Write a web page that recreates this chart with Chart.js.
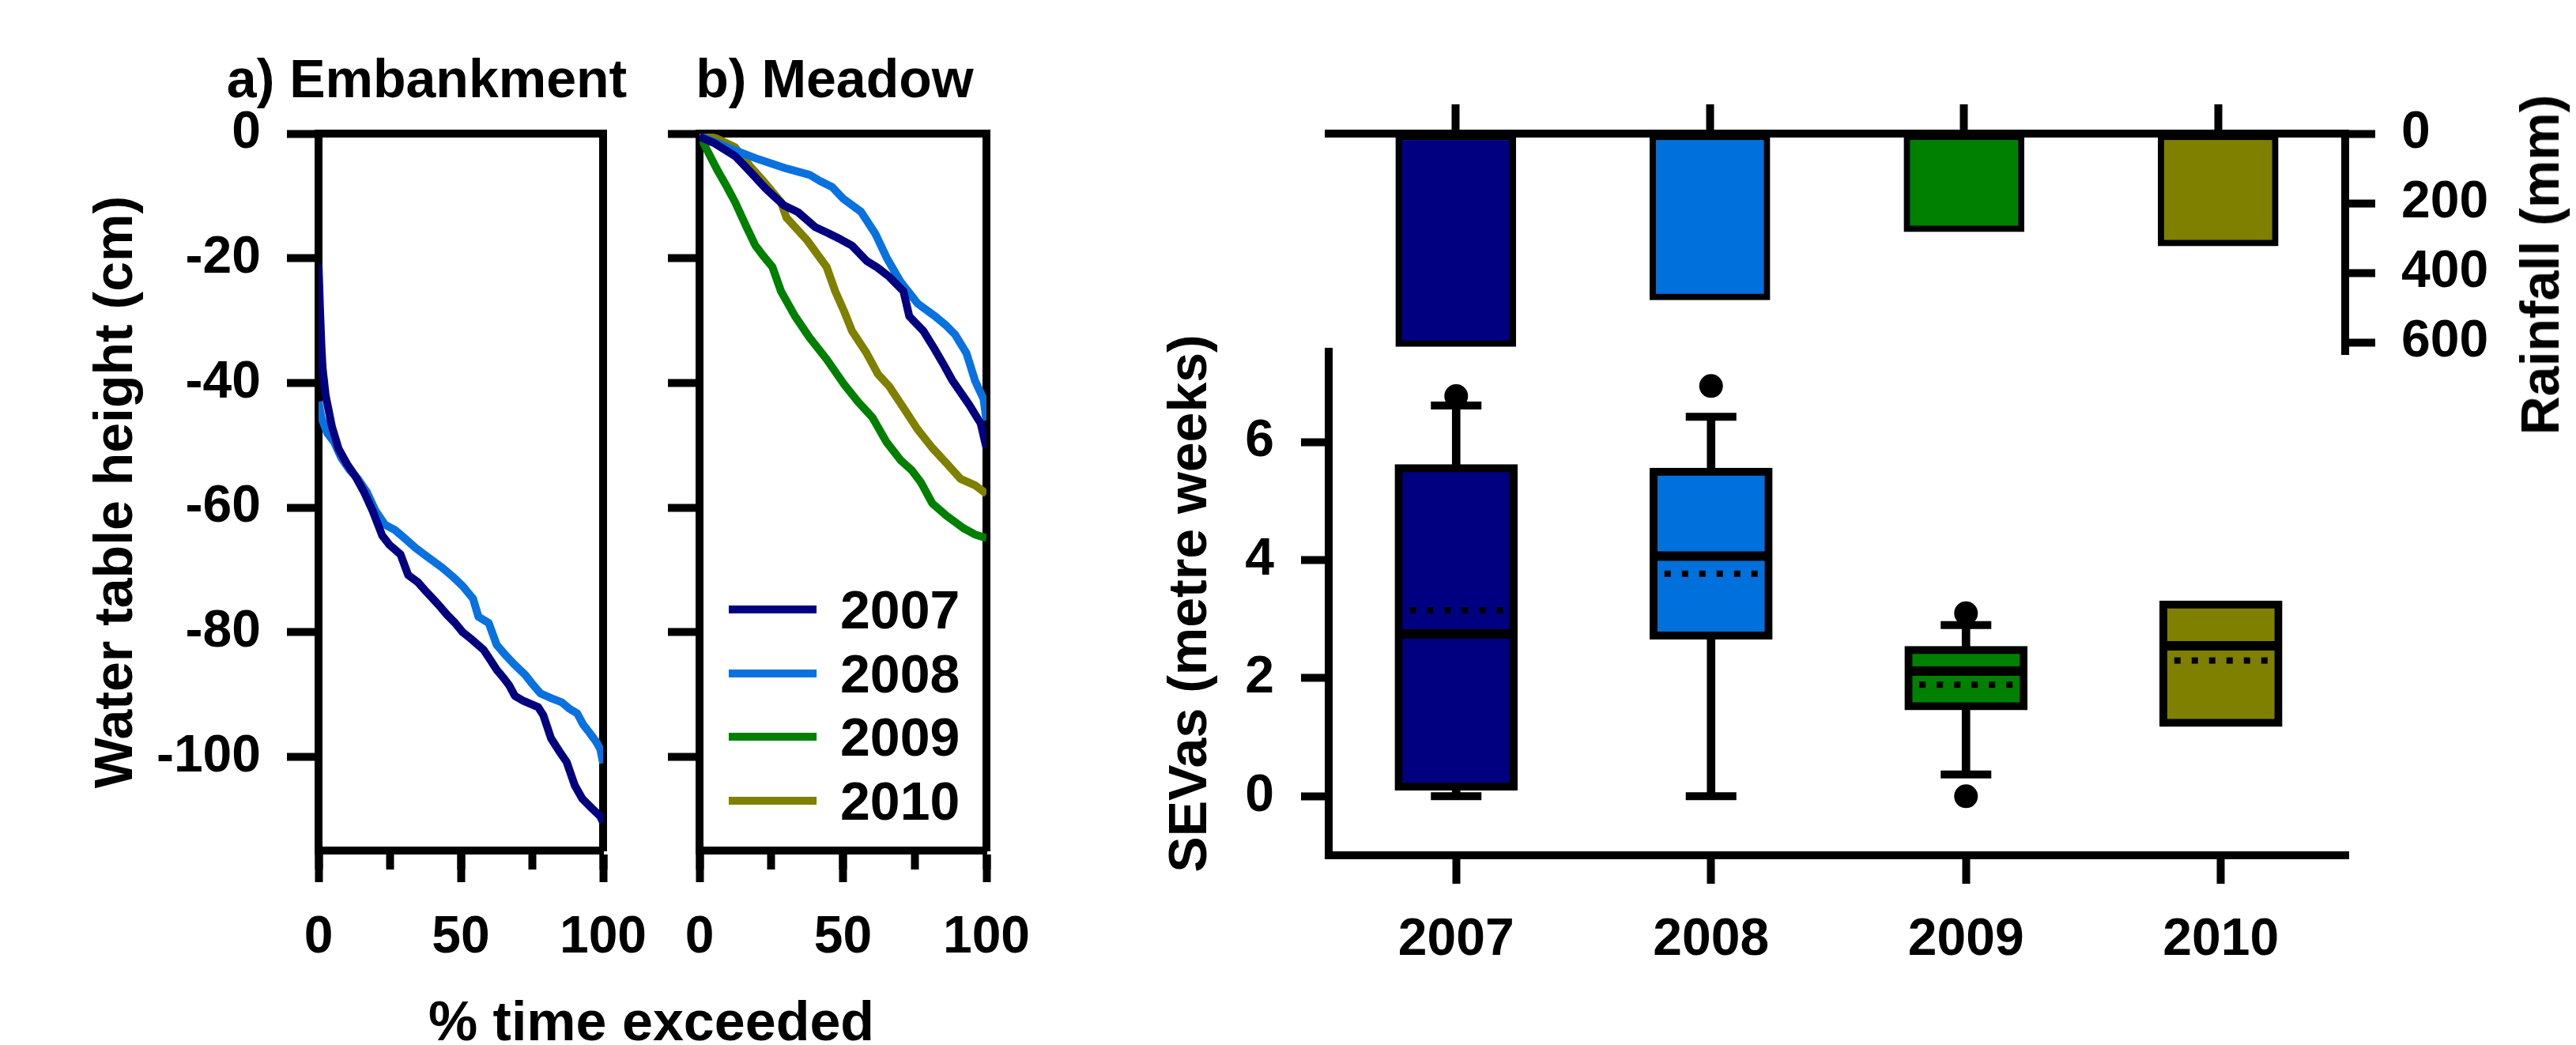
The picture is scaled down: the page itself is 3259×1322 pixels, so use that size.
<!DOCTYPE html>
<html lang="en">
<head>
<meta charset="utf-8">
<title>Water table, rainfall and SEVas 2007-2010</title>
<script src="https://cdn.jsdelivr.net/npm/chart.js@4.4.1/dist/chart.umd.min.js"></script>
<style>
  html, body { margin: 0; padding: 0; background: #fff; }
  #page { position: relative; width: 3259px; height: 1322px; overflow: hidden;
          font-family: "Liberation Sans", Arial, sans-serif; font-weight: bold; color: #000; }
  #page canvas { position: absolute; left: 0; top: 0; }
  .txt { position: absolute; white-space: nowrap; line-height: 1; transform: translate(-50%, -50%); }
  .vert { transform: translate(-50%, -50%) rotate(-90deg); }
  #meadowLegend { position: absolute; left: 922px; top: 731px; font-size: 68px; line-height: 1; }
  #meadowLegend .row { display: flex; align-items: center; height: 80.5px; }
  #meadowLegend .swatch { display: inline-block; width: 111px; height: 10px; margin-right: 30px; }
</style>
</head>
<body>
<div id="page">
  <canvas id="embankment" width="3259" height="1322"></canvas>
  <canvas id="meadow" width="3259" height="1322"></canvas>
  <canvas id="rainfall" width="3259" height="1322"></canvas>
  <canvas id="sevas" width="3259" height="1322"></canvas>
  <div class="txt" style="left:540px; top:99px; font-size:68px;">a) Embankment</div>
  <div class="txt" style="left:1056px; top:99px; font-size:68px;">b) Meadow</div>
  <div class="txt" style="left:824px; top:1292px; font-size:70px;">% time exceeded</div>
  <div class="txt vert" style="left:3213px; top:335px; font-size:68px;">Rainfall (mm)</div>
  <div id="meadowLegend"></div>
</div>
<script>
// ---- data ----
const years = ['2007', '2008', '2009', '2010'];
const yearColours = ['#000080', '#0A72E0', '#008000', '#808000'];

// water table duration curves: [% time exceeded, height (cm)]
const embank2007 = [[0,-21],[0.5,-28],[1,-34],[1.4,-37.5],[2.5,-42],[4.7,-47],[7,-50.5],[10,-53],[13,-55],
  [16,-57.5],[19,-60.5],[22.4,-64.5],[25,-66],[28.8,-67.5],[31.5,-70.8],[35,-72],[37.9,-73.5],[42,-75.5],
  [45.2,-77.2],[48,-78.5],[50.7,-80],[54,-81.2],[58,-82.8],[60.5,-84.5],[62.6,-86],[65,-87.3],[67,-88.5],
  [69,-90.2],[72,-91],[77.2,-92],[79,-93.3],[81.7,-97],[84.5,-99],[87.2,-100.8],[90,-104.5],[92.7,-106.7],
  [96,-108.2],[99,-109.5],[100,-110.5]];
const embank2008 = [[0,-43],[1,-45.5],[3,-48],[5.5,-49.5],[8,-52],[11,-54],[14,-55.5],[17,-57.5],[20,-60.5],
  [23.3,-62.7],[26.9,-63.6],[30,-64.8],[34.2,-66.5],[38,-67.8],[43.4,-69.6],[47,-71],[50.7,-72.6],
  [54.3,-74.6],[56.2,-77.5],[59.8,-78.5],[62.6,-82],[66,-83.8],[68.9,-85.2],[72.6,-86.8],[75,-88.2],
  [78,-89.8],[82,-90.6],[85.4,-91.2],[88,-92.2],[90.9,-93],[93,-94.8],[95.4,-96.2],[97.5,-97.5],
  [99,-98.7],[100,-101]];
const meadow2007 = [[0,-0.5],[5,-1.5],[12.4,-3.6],[17.4,-6],[23,-8.8],[29.4,-11.5],[34.3,-12.6],[40.3,-15],
  [45,-16],[49.3,-17],[53.2,-18],[58.2,-20.4],[62,-21.5],[66.2,-23],[71.1,-25.3],[73.1,-29.3],[78.1,-31.7],
  [82.1,-34.7],[85,-37],[88,-39.5],[91,-41.5],[94,-43.5],[98,-46.5],[100,-50.4]];
const meadow2008 = [[0,-0.4],[6,-1.5],[12.4,-2.7],[20.4,-4.1],[30.3,-5.6],[38.3,-6.6],[42,-7.6],[46.3,-8.6],
  [50.2,-10.5],[56.2,-12.5],[61.2,-16],[65.2,-19.9],[70.1,-23.8],[76.1,-27.3],[82.1,-29.3],[86,-30.8],
  [89,-32.2],[93,-35.2],[96,-39.6],[99,-42.6],[100,-46]];
const meadow2009 = [[0,-0.2],[3,-3],[6.5,-6.1],[9.5,-8.5],[12.4,-11],[16.4,-15],[19.4,-17.9],[22,-19.5],
  [25.4,-21.4],[28.4,-25.3],[33.3,-29.3],[38.3,-32.7],[44.3,-36.2],[50.2,-40.1],[55.2,-43],[60.2,-45.5],
  [65.2,-49.5],[70.1,-52.4],[74,-54],[77.1,-55.9],[81.1,-59.3],[86.1,-61.3],[92,-63.3],[96,-64.3],[100,-64.9]];
const meadow2010 = [[0,0],[6,-0.8],[12.4,-2.2],[17.4,-5.1],[23,-8],[28.4,-11],[30.3,-13.5],[37.3,-17],
  [44.3,-21.4],[47.3,-25.3],[50.2,-28.3],[53.2,-31.7],[58.2,-35.2],[62.2,-38.6],[66.2,-40.6],[71.1,-44],
  [76.1,-47.5],[81.1,-50.4],[86.1,-52.9],[91,-55.4],[96,-56.4],[100,-57.8]];

const depthTicks = [0, -20, -40, -60, -80, -100];
const pctMajorTicks = [0, 50, 100];
const pctMinorTicks = [0, 25, 50, 75, 100];

// annual rainfall (mm)
const rainfall = [612, 478, 282, 323];
const rainTicks = [0, 200, 400, 600];

// SEVas box plots (metre weeks)
const sevQ1 = [0.1, 2.66, 1.46, 1.18];
const sevQ3 = [5.62, 5.56, 2.54, 3.31];
const sevMedian = [2.75, 4.07, 2.12, 2.55];
const sevMean = [3.15, 3.77, 1.89, 2.3];
const sevWhiskerLow = [0, 0, 0.37, null];
const sevWhiskerHigh = [6.62, 6.43, 2.9, null];
const sevOutlierHigh = [6.78, 6.95, 3.1, null];
const sevOutlierLow = [null, null, 0, null];
const sevTicks = [0, 2, 4, 6];

// ---- shared settings ----
const W = 3259, H = 1322;
const FONT = '"Liberation Sans", Arial, Helvetica, sans-serif';
Chart.defaults.font.family = FONT;
Chart.defaults.color = '#000';

const tickFont = { family: FONT, size: 66, weight: 'bold' };
const titleFont = { family: FONT, size: 68, weight: 'bold' };
const axisLine = { width: 10, color: '#000' };
const tickGrid = len => ({ drawOnChartArea: false, tickLength: len, tickWidth: 10, tickColor: '#000' });
const fixWidth = w => s => { s.width = w; };
const fixHeight = h => s => { s.height = h; };
const setTicks = vals => s => { s.ticks = vals.map(v => ({ value: v })); };

const common = {
  responsive: false,
  animation: false,
  devicePixelRatio: 1,
  events: []
};

// legend written into a positioned div, built from the chart's own legend items
const htmlLegend = {
  id: 'htmlLegend',
  afterUpdate(chart, args, opts) {
    const box = document.getElementById(opts.containerID);
    if (!box) return;
    box.innerHTML = '';
    const items = chart.options.plugins.legend.labels.generateLabels(chart);
    items.forEach(item => {
      const row = document.createElement('div');
      row.className = 'row';
      const swatch = document.createElement('span');
      swatch.className = 'swatch';
      swatch.style.background = item.strokeStyle;
      const text = document.createElement('span');
      text.textContent = item.text;
      row.append(swatch, text);
      box.appendChild(row);
    });
  }
};

// ---- water table panels ----
function waterChart(id, area, series, yTitle, legendBox) {
  const yWidth = 300;
  const xHeight = 200;
  return new Chart(document.getElementById(id), {
    type: 'line',
    data: {
      datasets: series.map(s => ({
        label: s.label,
        data: s.points.map(([x, y]) => ({ x, y })),
        borderColor: s.colour,
        backgroundColor: s.colour,
        borderWidth: 10,
        borderJoinStyle: 'round',
        pointRadius: 0,
        tension: 0,
        fill: false
      }))
    },
    plugins: legendBox ? [htmlLegend] : [],
    options: {
      ...common,
      layout: { padding: { left: area.left - yWidth, right: W - area.right, top: area.top, bottom: H - area.bottom - xHeight } },
      plugins: {
        legend: { display: false },
        tooltip: { enabled: false },
        htmlLegend: { containerID: legendBox }
      },
      scales: {
        xMinor: {
          axis: 'x', type: 'linear', position: 'bottom', weight: 0, min: 0, max: 100,
          afterFit: fixHeight(0), afterBuildTicks: setTicks(pctMinorTicks),
          ticks: { display: false }, grid: tickGrid(24), border: axisLine
        },
        x: {
          axis: 'x', type: 'linear', position: 'bottom', weight: 1, min: 0, max: 100,
          afterFit: fixHeight(xHeight), afterBuildTicks: setTicks(pctMajorTicks),
          ticks: { font: tickFont, color: '#000', padding: 31, maxRotation: 0, autoSkip: false },
          grid: tickGrid(40), border: axisLine
        },
        xTop: {
          axis: 'x', type: 'linear', position: 'top', min: 0, max: 100,
          afterFit: fixHeight(0), ticks: { display: false }, grid: { display: false }, border: axisLine
        },
        y: {
          axis: 'y', type: 'linear', position: 'left', min: -115, max: 0,
          afterFit: fixWidth(yWidth), afterBuildTicks: setTicks(depthTicks),
          ticks: { font: tickFont, color: '#000', padding: 33, display: !!yTitle },
          grid: tickGrid(40), border: axisLine,
          title: { display: !!yTitle, text: yTitle || '', font: titleFont, color: '#000', padding: { top: 4, bottom: 0 } }
        },
        yRight: {
          axis: 'y', type: 'linear', position: 'right', min: -115, max: 0,
          afterFit: fixWidth(0), ticks: { display: false }, grid: { display: false }, border: axisLine
        }
      }
    }
  });
}

waterChart('embankment', { left: 403, right: 763, top: 169, bottom: 1076 }, [
  { label: '2007', points: embank2007, colour: yearColours[0] },
  { label: '2008', points: embank2008, colour: yearColours[1] }
], 'Water table height (cm)', null);

waterChart('meadow', { left: 885, right: 1248, top: 169, bottom: 1076 }, [
  { label: '2007', points: meadow2007, colour: yearColours[0] },
  { label: '2008', points: meadow2008, colour: yearColours[1] },
  { label: '2009', points: meadow2009, colour: yearColours[2] },
  { label: '2010', points: meadow2010, colour: yearColours[3] }
], null, 'meadowLegend');

// ---- rainfall bars (hanging from the top axis) ----
const barColours = ['#000080', '#0070DD', '#008000', '#808000'];
const rainArea = { left: 1681, right: 2967, top: 169, bottom: 448 };
new Chart(document.getElementById('rainfall'), {
  type: 'bar',
  data: {
    labels: years,
    datasets: [{
      data: rainfall,
      backgroundColor: barColours,
      borderColor: '#000',
      borderWidth: 8,
      borderSkipped: false,
      barThickness: 152
    }]
  },
  options: {
    ...common,
    layout: { padding: { left: rainArea.left, right: W - rainArea.right - 200, top: rainArea.top, bottom: H - rainArea.bottom } },
    plugins: { legend: { display: false }, tooltip: { enabled: false } },
    scales: {
      x: {
        position: 'top', offset: true, afterFit: fixHeight(0),
        ticks: { display: false }, grid: { ...tickGrid(37), offset: false }, border: axisLine
      },
      y: {
        position: 'right', reverse: true, min: 0, max: 634,
        afterFit: fixWidth(200), afterBuildTicks: setTicks(rainTicks),
        ticks: { font: tickFont, color: '#000', padding: 33 },
        grid: tickGrid(38), border: axisLine
      }
    }
  }
});

// ---- SEVas box plots ----
function dottedMark(width, colour) {
  const c = document.createElement('canvas');
  c.width = width;
  c.height = 10;
  const g = c.getContext('2d');
  g.fillStyle = colour;
  for (let x = 5; x < width; x += 22) g.fillRect(x - 4, 1, 8, 8);
  return c;
}

const markStyle = (style, radius, width) => ({
  type: 'line', showLine: false, pointStyle: style, pointRadius: radius,
  pointBorderWidth: width, pointBorderColor: '#000', pointBackgroundColor: '#000'
});

const boxArea = { left: 1681, right: 2971, top: 445, bottom: 1082 };
new Chart(document.getElementById('sevas'), {
  type: 'bar',
  data: {
    labels: years,
    datasets: [
      { ...markStyle(dottedMark(120, '#000'), 10, 0), data: sevMean, order: 0 },
      { ...markStyle('line', 77, 12), data: sevMedian, order: 0 },
      { ...markStyle('line', 32, 10), data: sevWhiskerHigh, order: 1 },
      { ...markStyle('line', 32, 10), data: sevWhiskerLow, order: 1 },
      { ...markStyle('circle', 15, 0), data: sevOutlierHigh, order: 1 },
      { ...markStyle('circle', 15, 0), data: sevOutlierLow, order: 1 },
      {
        type: 'bar', order: 2, grouped: false,
        data: years.map((_, i) => [sevQ1[i], sevQ3[i]]),
        backgroundColor: barColours, borderColor: '#000', borderWidth: 10,
        borderSkipped: false, barThickness: 155
      },
      {
        type: 'bar', order: 3, grouped: false,
        data: years.map((_, i) => sevWhiskerHigh[i] == null ? null : [sevQ3[i], sevWhiskerHigh[i]]),
        backgroundColor: '#000', barThickness: 10
      },
      {
        type: 'bar', order: 3, grouped: false,
        data: years.map((_, i) => sevWhiskerLow[i] == null ? null : [sevWhiskerLow[i], sevQ1[i]]),
        backgroundColor: '#000', barThickness: 10
      }
    ]
  },
  options: {
    ...common,
    layout: { padding: { left: boxArea.left - 300, right: W - boxArea.right, top: boxArea.top, bottom: H - boxArea.bottom - 200 } },
    plugins: { legend: { display: false }, tooltip: { enabled: false } },
    scales: {
      x: {
        position: 'bottom', offset: true, afterFit: fixHeight(200),
        ticks: { font: tickFont, color: '#000', padding: 32, maxRotation: 0, autoSkip: false },
        grid: { ...tickGrid(36), offset: false }, border: axisLine
      },
      y: {
        position: 'left', min: -1, max: 7.53,
        afterFit: fixWidth(300), afterBuildTicks: setTicks(sevTicks),
        ticks: { font: tickFont, color: '#000', padding: 34 },
        grid: tickGrid(35), border: axisLine,
        title: { display: true, text: 'SEVas (metre weeks)', font: titleFont, color: '#000', padding: { top: 85, bottom: 0 } }
      }
    }
  }
});
</script>
</body>
</html>
